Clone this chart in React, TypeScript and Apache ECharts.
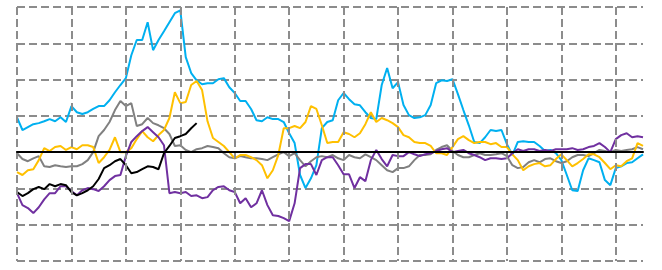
import React, { useEffect, useRef } from "react";
import * as echarts from "echarts";

// 116 evenly spaced observations (index 0..115); vertical grid every 10
const periods: string[] = Array.from({ length: 116 }, (_, i) => `P${i + 1}`);

const cyanSeries = [
  9.6, 6.1, 6.9, 7.7, 8.0, 8.5, 9.1, 8.5, 9.6, 8.3,
  12.7, 11.0, 10.5, 11.0, 11.9, 12.7, 12.7, 14.3, 16.5, 18.5,
  20.4, 26.7, 30.9, 30.9, 35.8, 28.1, 30.9, 33.3, 35.8, 38.3,
  39.1, 26.2, 21.8, 19.8, 18.7, 19.0, 19.0, 20.1, 20.4, 17.9,
  16.3, 14.1, 14.1, 11.9, 8.8, 8.5, 9.6, 9.1, 9.1, 8.3,
  5.2, 2.5, -6.3, -9.9, -7.2, -3.6, 6.6, 8.3, 8.8, 14.3,
  16.3, 14.6, 13.2, 12.9, 11.0, 9.4, 9.1, 18.5, 23.2, 17.6,
  19.3, 13.0, 10.2, 9.4, 9.6, 10.2, 13.0, 19.0, 19.8, 19.6,
  20.1, 16.0, 11.6, 7.4, 2.8, 2.5, 4.1, 6.1, 5.8, 6.1,
  2.2, -0.8, 2.8, 3.0, 2.8, 2.8, 1.7, 0.3, 0.6, -0.3,
  -2.2, -6.3, -10.5, -10.7, -5.0, -1.7, -2.2, -2.8, -7.7, -9.1,
  -4.4, -3.9, -3.0, -2.8, -1.7, -0.6,
];

const graySeries = [
  -0.3, -1.9, -2.5, -1.7, -1.1, -3.9, -4.1, -3.6, -3.9, -4.1,
  -3.9, -3.9, -3.3, -2.2, 0, 4.4, 6.1, 8.3, 11.6, 14.1,
  12.7, 13.5, 7.2, 7.7, 9.4, 8.0, 7.4, 6.6, 5.0, 1.7,
  1.9, 0.6, 0, 0.8, 1.1, 1.7, 1.4, 1.1, -0.3, -1.4,
  -1.7, -1.1, -1.4, -1.7, -1.7, -1.9, -2.2, -1.4, -0.6, 0,
  -1.1, -0.3, -2.2, -3.9, -2.5, -1.4, -1.1, -1.4, -0.8, -1.7,
  -2.2, -0.8, -1.4, -1.7, -0.6, -1.4, -2.2, -3.6, -5.0, -5.5,
  -4.4, -4.4, -3.9, -2.2, -0.8, -0.8, -0.6, 0.6, 1.4, 1.9,
  0.3, -0.8, -1.4, -1.4, -0.8, -0.3, -0.8, -0.8, -0.6, -0.3,
  -1.1, -3.6, -4.4, -4.1, -2.8, -2.2, -2.8, -1.9, -1.7, -2.5,
  -3.0, -2.5, -1.4, -0.8, -0.8, -1.1, -0.3, 0.6, 0.3, 0,
  0.6, 0.3, 0.6, 0.8, 1.4, 0.8,
];

const goldSeries = [
  -5.5, -6.3, -5.0, -4.7, -2.2, 1.1, 0.3, 1.4, 1.7, 0.6,
  1.4, 0.8, 1.9, 1.9, 1.4, -3.0, -1.4, 0.6, 4.1, 0,
  0, 1.1, 3.6, 5.8, 4.1, 3.0, 4.7, 6.1, 9.4, 16.5,
  13.5, 13.8, 18.5, 19.6, 17.1, 8.5, 3.9, 2.8, 1.7, 0,
  -1.7, -0.8, -0.8, -1.4, -2.2, -3.6, -7.2, -5.0, -0.8, 6.6,
  6.6, 7.2, 6.6, 8.3, 12.7, 11.9, 7.4, 2.5, 2.8, 2.8,
  5.5, 5.0, 4.1, 5.2, 7.7, 11.0, 8.3, 9.4, 8.8, 8.0,
  6.9, 4.7, 4.1, 2.8, 2.5, 2.5, 1.7, -0.3, -0.3, -0.8,
  1.4, 3.6, 4.4, 3.3, 2.5, 2.8, 2.8, 2.2, 2.5, 1.4,
  1.4, -0.6, -2.2, -5.0, -3.9, -3.3, -3.0, -3.9, -3.6, -1.9,
  -0.6, -2.2, -3.9, -3.0, -1.9, -0.6, -0.6, -1.4, -3.0, -4.7,
  -3.6, -3.9, -2.5, -1.7, 2.5, 1.7,
];

const purpleSeries = [
  -11.3, -14.6, -15.4, -16.8, -15.2, -13.0, -11.3, -11.3, -9.4, -9.4,
  -10.7, -11.9, -10.5, -9.9, -10.2, -10.7, -9.4, -7.7, -6.6, -6.3,
  -1.1, 2.8, 4.4, 5.8, 6.9, 5.5, 4.1, 1.9, -11.3, -11.0,
  -11.3, -11.0, -12.1, -11.9, -12.7, -12.4, -10.5, -9.6, -9.4, -10.5,
  -11.0, -14.1, -12.7, -15.2, -14.1, -10.5, -14.6, -17.4, -17.6, -18.2,
  -19.0, -14.1, -4.4, -3.3, -3.3, -6.3, -2.2, -1.4, -1.4, -3.6,
  -6.1, -6.1, -9.9, -6.9, -8.0, -2.2, 0.6, -1.9, -3.9, -0.8,
  -1.1, -1.1, 0, -0.6, -1.1, -0.6, -0.3, 0.3, 0.8, 1.1,
  0, 0.3, 0.6, -0.3, -0.8, -1.4, -2.2, -1.7, -1.7, -1.9,
  -1.7, -0.3, 0.8, 0.3, 0.8, 0.8, 0.3, 0.6, 0.3, 0.8,
  0.8, 0.8, 1.1, 0.6, 0.8, 1.4, 1.7, 2.5, 1.4, 0,
  3.6, 4.7, 5.2, 4.1, 4.4, 4.1,
];

const blackSeries = [
  -11.0, -12.1, -11.3, -10.2, -9.6, -10.2, -8.8, -9.4, -8.8, -9.1,
  -11.0, -11.9, -11.3, -10.5, -9.4, -7.4, -4.4, -3.6, -2.5, -1.9,
  -3.6, -5.8, -5.5, -4.7, -3.9, -4.1, -4.7, -0.3, 1.7, 3.9,
  4.4, 5.0, 6.6, 8.0,
];

const Y_MIN = -30;
const Y_MAX = 40;
const Y_STEP = 10;
const X_GRID_EVERY = 10;

export default function App() {
  const ref = useRef<HTMLDivElement>(null);

  useEffect(() => {
    document.body.style.margin = "0";
    if (!ref.current) return;
    const chart = echarts.init(ref.current, undefined, { renderer: "svg" });
    const dashed = { color: "#8c8c8c", width: 2, type: [8, 4] as number[] };
    const mk = (name: string, data: number[], color: string) => ({
      name,
      type: "line" as const,
      data,
      showSymbol: false,
      symbol: "none",
      lineStyle: { color, width: 2 },
      itemStyle: { color },
      z: 3,
    });
    chart.setOption({
      animation: false,
      grid: { left: 17, right: 19, top: 7, bottom: 9, containLabel: false },
      xAxis: {
        type: "category",
        data: periods,
        boundaryGap: false,
        axisLine: { show: true, onZero: true, lineStyle: { color: "#000", width: 2 } },
        axisTick: { show: false },
        axisLabel: { show: false },
        splitLine: {
          show: true,
          interval: (idx: number) => idx % X_GRID_EVERY === 0,
          lineStyle: dashed,
        },
        z: 5,
      },
      yAxis: {
        type: "value",
        min: Y_MIN,
        max: Y_MAX,
        interval: Y_STEP,
        axisLine: { show: false },
        axisTick: { show: false },
        axisLabel: { show: false },
        splitLine: { show: true, lineStyle: dashed },
      },
      series: [
        mk("Cyan", cyanSeries, "#00B0F0"),
        mk("Gray", graySeries, "#808080"),
        mk("Gold", goldSeries, "#FFC000"),
        mk("Purple", purpleSeries, "#7030A0"),
        mk("Black", blackSeries, "#000000"),
      ],
    });
    return () => chart.dispose();
  }, []);

  return <div ref={ref} style={{ width: 662, height: 270 }} />;
}
